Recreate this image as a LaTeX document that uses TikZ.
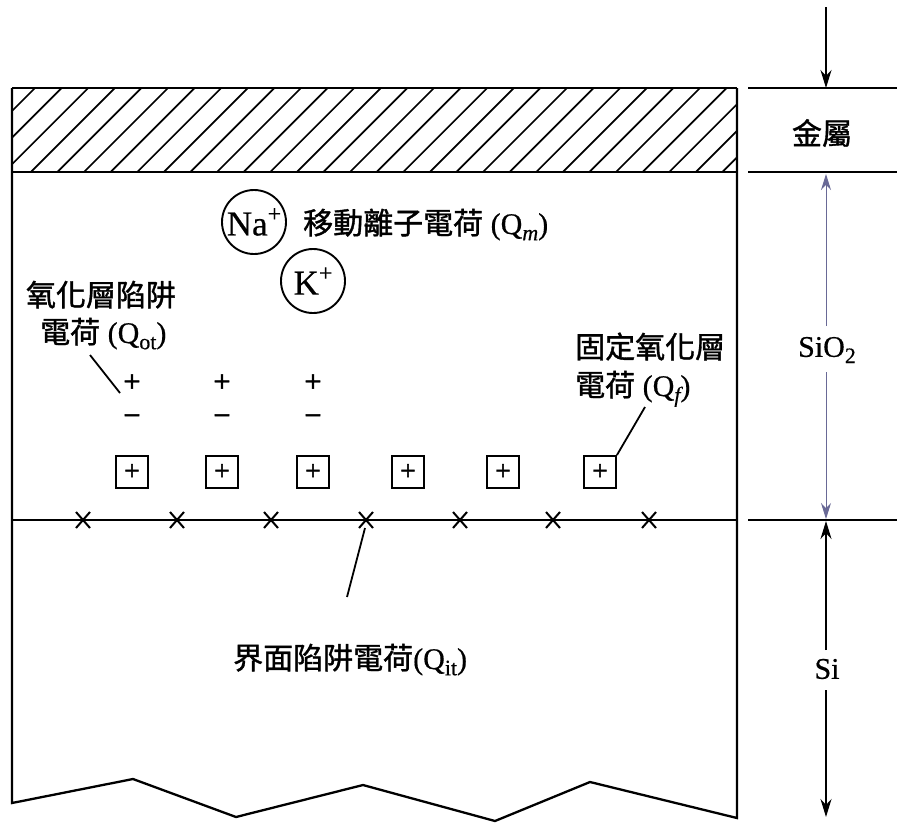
\documentclass[tikz,border=0pt]{standalone}
\usepackage{fontspec}
\setmainfont[FakeBold=0.5]{Liberation Serif}
\newfontfamily\cjk[FakeBold=1.2]{Noto Sans CJK TC}
\newfontfamily\signfont[FakeBold=1.5]{Liberation Serif}
\usetikzlibrary{arrows.meta,calc}
\newcommand{\mysub}[1]{\raisebox{-0.45ex}{\fontsize{22}{22}\selectfont #1}}
\newcommand{\mysup}[1]{\raisebox{0.85ex}{\fontsize{24}{24}\selectfont #1}}
\begin{document}
\begin{tikzpicture}[x=1pt,y=-1pt,
  lbl/.style={inner sep=0pt, font=\fontsize{30}{34}\selectfont},
  ion/.style={circle, draw, line width=1.9pt, minimum size=64pt, inner sep=0pt, font=\fontsize{35}{36}\selectfont},
  fixbox/.style={draw, line width=1.9pt, minimum size=32pt, inner sep=0pt, font=\signfont\fontsize{28}{28}\selectfont},
  sgn/.style={inner sep=0pt, font=\signfont\fontsize{31}{32}\selectfont},
  edge/.style={line width=2.3pt},
  hatchline/.style={line width=1.7pt},
  leader/.style={line width=1.8pt},
  xmark/.style={line width=2pt},
  dimtip/.style={-{Stealth[length=18pt,width=11pt]}, line width=1.8pt},
  oxtip/.style={-{Stealth[length=16pt,width=10pt]}, line width=1pt, draw=oxcol},
]
\definecolor{oxcol}{RGB}{105,105,150}
\useasboundingbox (0,0) rectangle (897,823);

% metal hatch
\begin{scope}
  \clip (12,88) rectangle (737,172);
  \foreach \k in {-1,...,30} {
    \draw[hatchline] ({35+\k*26.6-84},172) -- ++(84,-84);
  }
\end{scope}

% main outline
\draw[edge] (12,88) -- (737,88);
\draw[edge] (12,172) -- (737,172);
\draw[edge] (12,520) -- (737,520);
\draw[edge, line join=miter] (12,88) -- (12,803) -- (133,779) -- (236,817) -- (363,785) -- (495,821) -- (590,782) -- (737,818) -- (737,88);

% mobile ions
\node[ion] (na) at (254,222) {Na\mysup{+}};
\node[ion] (k) at (313,281) {K\mysup{+}};
\node[lbl, anchor=base west] (qm) at (303,234) {{\cjk 移動離子電荷} (Q\mysub{\itshape m})};

% oxide trapped charge
\node[lbl, anchor=base] (qot1) at (101,306) {\cjk 氧化層陷阱};
\node[lbl, anchor=base west] (qot2) at (40,343) {{\cjk 電荷} (Q\mysub{ot})};
\foreach \n/\x in {1/132,2/222,3/313} {
  \node[sgn] (p\n) at (\x,383) {+};
  \node[sgn] (m\n) at (\x,420) {−};
}
\coordinate (qotA) at (90,355);
\coordinate (qotB) at (120,393);
\draw[leader] (qotA) -- (qotB);

% fixed oxide charge
\foreach \n/\x in {1/132,2/222,3/313,4/408,5/503,6/600} {
  \node[fixbox] (f\n) at (\x,472) {+};
}
\node[lbl, anchor=base west] (qf1) at (575,358) {\cjk 固定氧化層};
\node[lbl, anchor=base west] (qf2) at (575,396) {{\cjk 電荷} (Q\mysub{\itshape f})};
\coordinate (qfA) at (645,407);
\draw[leader] (qfA) -- (f6.north east);

% interface traps
\foreach \n/\x in {1/83,2/177,3/271,4/366,5/460,6/553,7/649} {
  \coordinate (x\n) at (\x,520);
  \draw[xmark] ($(x\n)+(-7,-8)$) -- ($(x\n)+(7,8)$);
  \draw[xmark] ($(x\n)+(-7,8)$) -- ($(x\n)+(7,-8)$);
}
\node[lbl, anchor=base west] (qit) at (233,669) {{\cjk 界面陷阱電荷}(Q\mysub{it})};
\coordinate (qitA) at (347,597);
\draw[leader] ($(x4)+(-1,8)$) -- (qitA);

% right-hand dimensions
\coordinate (r0) at (748,88);
\coordinate (r1) at (748,172);
\coordinate (r2) at (748,520);
\draw[edge] (r0) -- ++(149,0);
\draw[edge] (r1) -- ++(149,0);
\draw[edge] (r2) -- ++(149,0);
\coordinate (top) at (826,7);
\draw[dimtip] (top) -- (826,88);
\node[lbl, anchor=center] (metal) at (822,133) {\cjk 金屬};
\node[lbl, anchor=center] (sio2) at (827,350) {SiO\mysub{2}};
\draw[oxtip] (826,326) -- (826,174);
\draw[oxtip] (826,372) -- (826,519);
\node[lbl, anchor=center] (si) at (827,669) {Si};
\draw[dimtip] (826,650) -- (826,521);
\draw[dimtip] (826,690) -- (826,817);
\end{tikzpicture}
\end{document}
